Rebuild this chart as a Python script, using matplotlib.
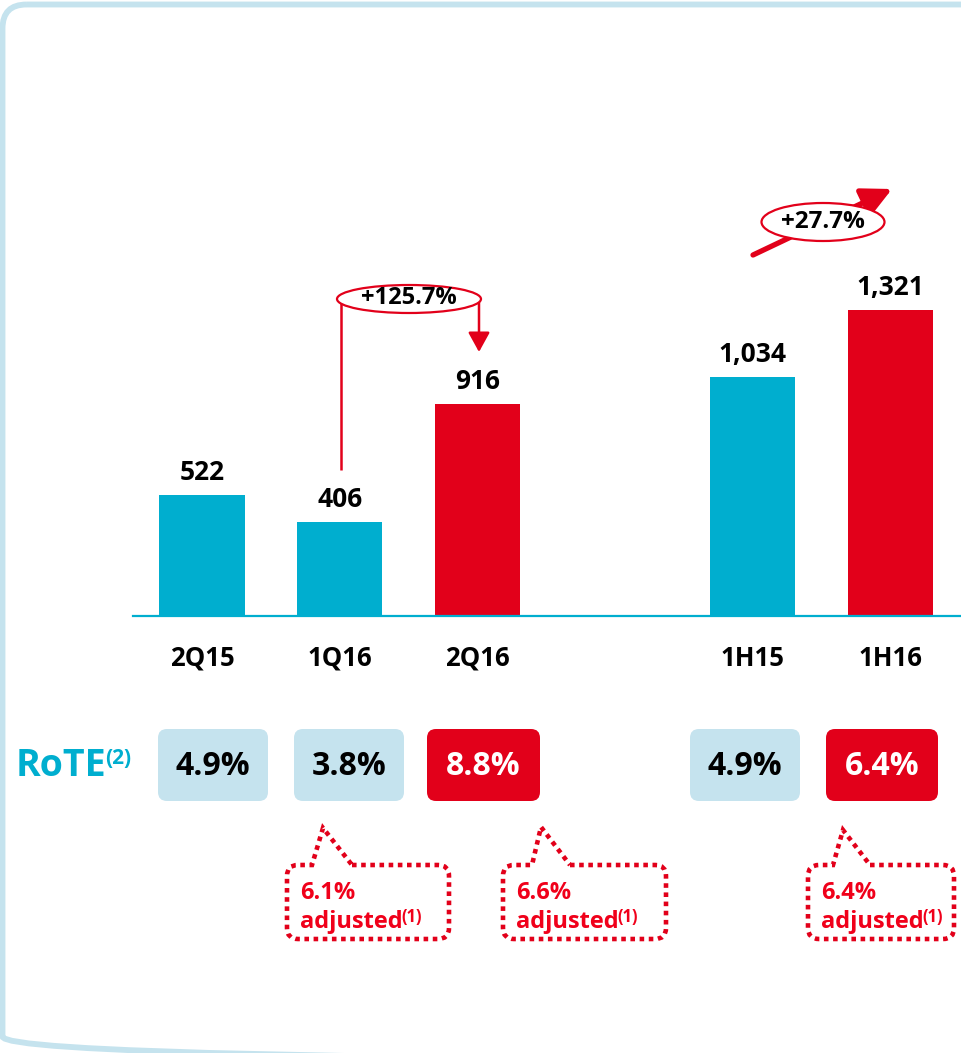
import matplotlib
matplotlib.use("Agg")
import matplotlib.pyplot as plt
from matplotlib.patches import FancyBboxPatch, Ellipse, PathPatch
from matplotlib.path import Path

plt.rcParams['font.family'] = ['Open Sans', 'DejaVu Sans']
plt.rcParams['font.weight'] = 'bold'

# Data
periods = ['2Q15', '1Q16', '2Q16', '1H15', '1H16']
profit = [522, 406, 916, 1034, 1321]
profit_labels = ['522', '406', '916', '1,034', '1,321']
positions = [0, 1, 2, 4, 5]
highlight = [False, False, True, False, True]
rote = ['4.9%', '3.8%', '8.8%', '4.9%', '6.4%']
rote_adjusted = [None, '6.1%', '6.6%', None, '6.4%']
growth_q = '+125.7%'
growth_h = '+27.7%'

# Colours
CYAN = '#00aecf'
RED = '#e2001a'
PALE = '#c5e3ee'
TXTRED = '#f0001a'

# Layout (pixels)
W, H = 962, 1053
base_px = 615.5
scale = 0.231      # px per unit
step = 137.7       # px between bar slots
x0 = 202           # centre of first bar
rote_boxes = [(158, 268), (294, 404), (427, 540), (690, 800), (826, 938)]
# L, R, T, B, apex, pointer base left/right
callouts = [None,
            (287, 449, 865, 939, (323, 828), 312, 352),
            (503, 666, 865, 939, (541, 827), 532, 570),
            None,
            (808, 954, 865, 939, (843, 830), 833, 870)]

fig = plt.figure(figsize=(W / 100, H / 100), dpi=100)

# overlay in pixel units for the decorations
ov = fig.add_axes([0, 0, 1, 1])
ov.set_xlim(0, W)
ov.set_ylim(H, 0)
ov.axis('off')

# bar axes
ax = fig.add_axes([0, 0, 1, 1])
ax.set_xlim(-x0 / step, (W - x0) / step)
ax.set_ylim(-(H - base_px) / scale, base_px / scale)
ax.axis('off')
ax.patch.set_alpha(0)

# frame
ov.add_patch(FancyBboxPatch((2.5, 4.5), 1100, 1056, boxstyle='round,pad=0,rounding_size=24',
                            fc='none', ec=PALE, lw=4.2))

# bars
colors = [RED if h else CYAN for h in highlight]
ax.bar(positions, profit, width=0.62, color=colors, zorder=2)
ax.axhline(0, xmin=133 / W, xmax=1, color=CYAN, lw=1.6, zorder=3)

for p, v, lbl, per in zip(positions, profit, profit_labels, periods):
    ax.annotate(lbl, (p, v), xytext=(0, 15), textcoords='offset pixels',
                ha='center', va='baseline', fontsize=19, color='black')
    ax.annotate(per, (p, 0), xytext=(0, -50), textcoords='offset pixels',
                ha='center', va='baseline', fontsize=18.5, color='black')

# RoTE row
t = ov.text(16, 776, 'RoTE', color=CYAN, fontsize=27, ha='left', va='baseline')
ov.annotate('(2)', xy=(1, 764), xycoords=(t, 'data'), xytext=(-1, 0),
            textcoords='offset pixels', color=CYAN, fontsize=15, ha='left', va='baseline')

for (l, r), val, h in zip(rote_boxes, rote, highlight):
    ov.add_patch(FancyBboxPatch((l, 729), r - l, 72, boxstyle='round,pad=0,rounding_size=9',
                                fc=RED if h else PALE, ec='none'))
    ov.text((l + r) / 2, 775, val, ha='center', va='baseline', fontsize=23,
            color='white' if h else 'black')

# adjusted callouts
for c, adj in zip(callouts, rote_adjusted):
    if c is None:
        continue
    L, R, T, B, apex, bl, br = c
    r = 11
    verts = [(br, T), (R - r, T), (R, T), (R, T + r), (R, B - r), (R, B), (R - r, B),
             (L + r, B), (L, B), (L, B - r), (L, T + r), (L, T), (L + r, T),
             (bl, T), apex, (br, T)]
    codes = [Path.MOVETO, Path.LINETO, Path.CURVE3, Path.CURVE3, Path.LINETO,
             Path.CURVE3, Path.CURVE3, Path.LINETO, Path.CURVE3, Path.CURVE3,
             Path.LINETO, Path.CURVE3, Path.CURVE3, Path.LINETO, Path.LINETO, Path.LINETO]
    ov.add_patch(PathPatch(Path(verts, codes), fc='none', ec=RED, lw=3.3,
                           linestyle=(0, (1, 1))))
    ov.text(L + 13, 899, adj, color=TXTRED, fontsize=17, ha='left', va='baseline')
    ta = ov.text(L + 13, 928, 'adjusted', color=TXTRED, fontsize=17, ha='left', va='baseline')
    ov.annotate('(1)', xy=(1, 922), xycoords=(ta, 'data'), xytext=(-1, 0),
                textcoords='offset pixels', color=TXTRED, fontsize=12, ha='left', va='baseline')

# quarter growth connector
ov.plot([341, 341], [470, 299], color=RED, lw=1.8, solid_capstyle='butt')
ov.annotate('', xy=(479, 352), xytext=(479, 299),
            arrowprops=dict(arrowstyle='-|>,head_length=0.6,head_width=0.33', color=RED,
                            lw=1.8, shrinkA=0, shrinkB=0, mutation_scale=20))
ov.add_patch(Ellipse((409, 299), 144, 28, fc='white', ec=RED, lw=1.6, zorder=5))
ov.text(409, 298, growth_q, ha='center', va='center', fontsize=17, zorder=6)

# half-year growth arrow
ov.annotate('', xy=(892, 189), xytext=(753, 255),
            arrowprops=dict(arrowstyle='-|>,head_length=0.9,head_width=0.45', color=RED,
                            lw=3.8, shrinkA=0, shrinkB=0, mutation_scale=20))
ov.add_patch(Ellipse((823, 222), 123, 38, fc='white', ec=RED, lw=1.6, zorder=5))
ov.text(823, 222, growth_h, ha='center', va='center', fontsize=17.5, zorder=6)

fig.savefig('out.png', dpi=100)
